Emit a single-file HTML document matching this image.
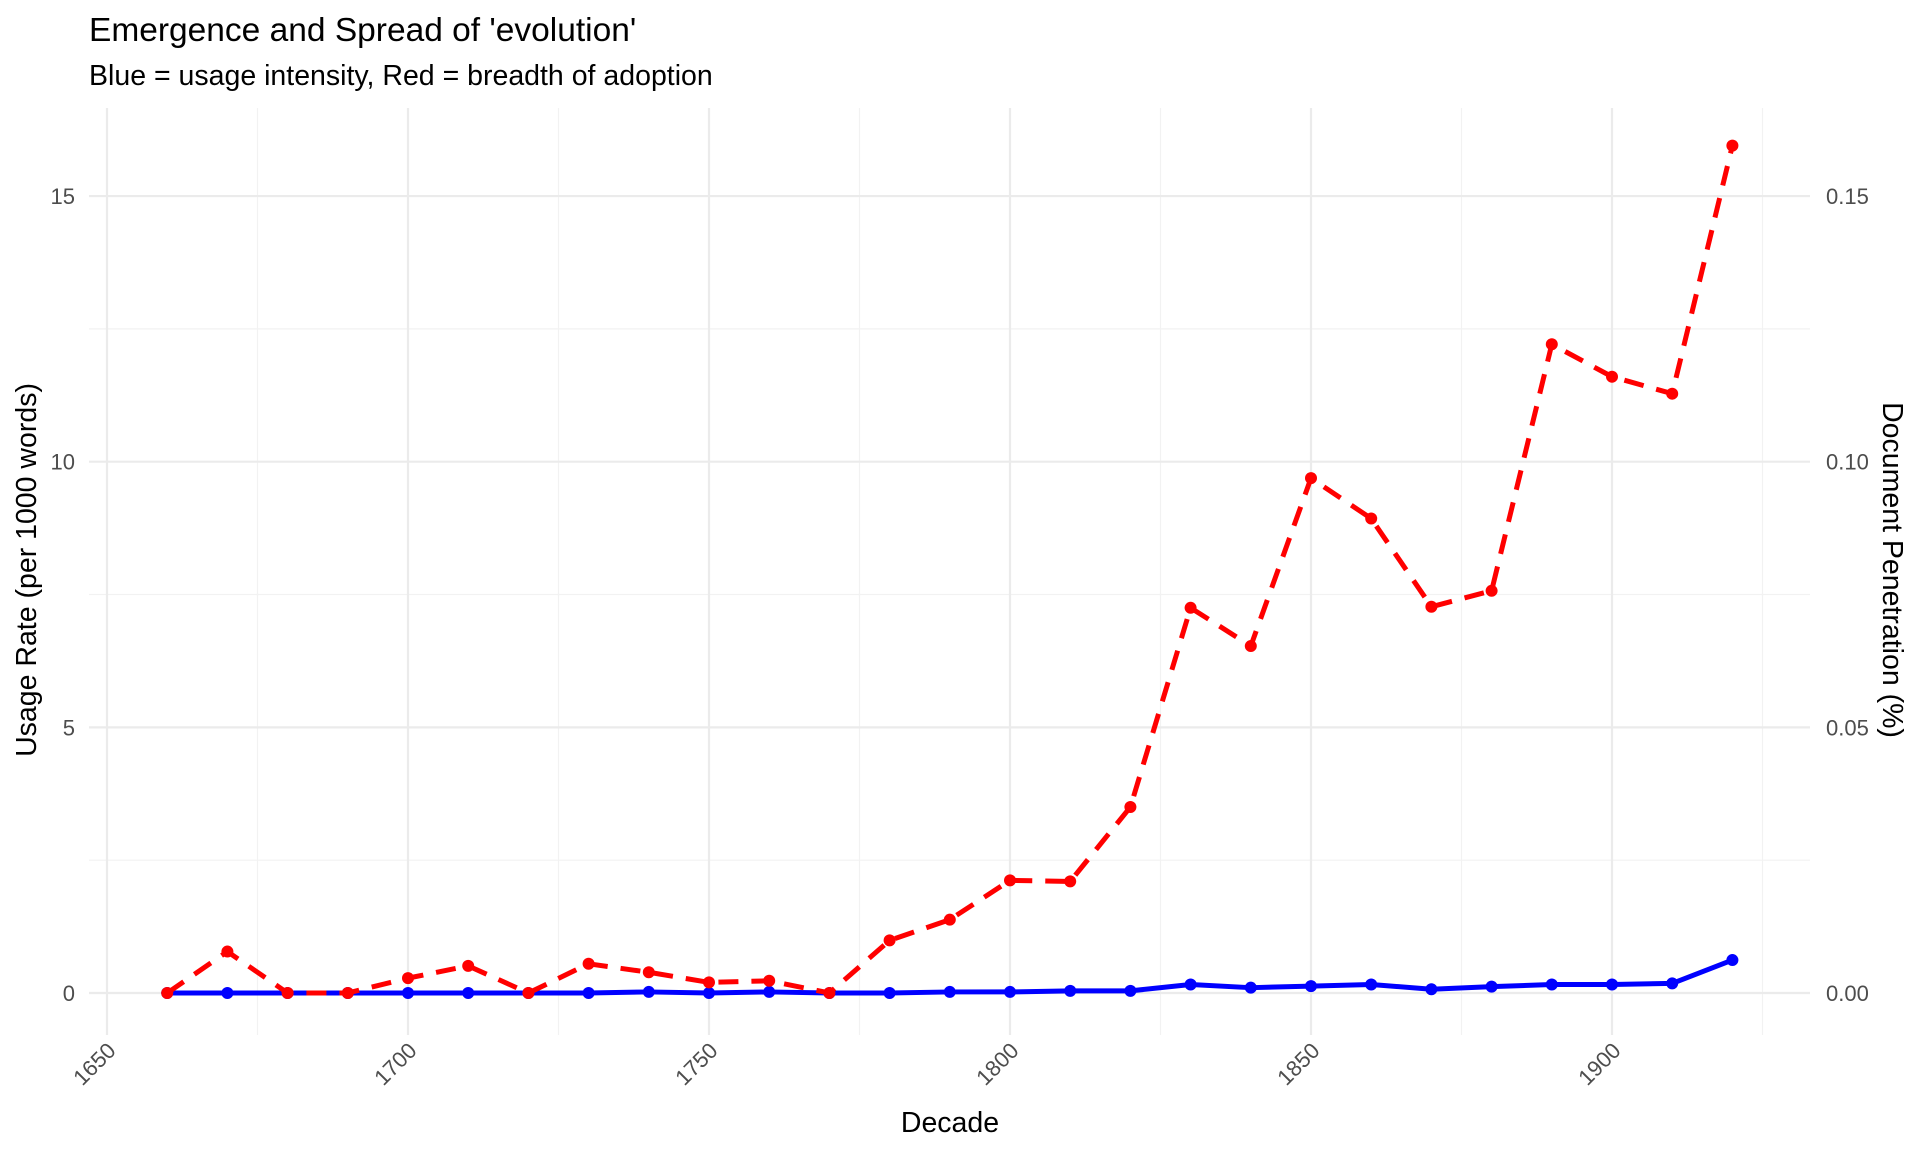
<!DOCTYPE html>
<html><head><meta charset="utf-8"><style>
html,body{margin:0;padding:0;background:#fff;}
svg{display:block;font-family:"Liberation Sans",Arial,sans-serif;}
</style></head><body>
<svg id="chart" width="1920" height="1152" viewBox="0 0 1920 1152" xmlns="http://www.w3.org/2000/svg">
<rect width="1920" height="1152" fill="#fff"/>
<text x="89" y="41" font-size="33.5" fill="#000">Emergence and Spread of 'evolution'</text>
<text x="89" y="85" font-size="28.5" fill="#000">Blue = usage intensity, Red = breadth of adoption</text>
<g id="grid"></g>
<g id="axes"></g>
<g id="series"></g>
<text x="950" y="1132" font-size="28.5" text-anchor="middle" fill="#000">Decade</text>
<text transform="translate(36,570) rotate(-90)" font-size="28.5" text-anchor="middle" fill="#000">Usage Rate (per 1000 words)</text>
<text transform="translate(1883,570) rotate(90)" font-size="28.5" text-anchor="middle" fill="#000">Document Penetration (%)</text>
</svg>
<script>
const decades = [1660,1670,1680,1690,1700,1710,1720,1730,1740,1750,1760,1770,1780,1790,1800,1810,1820,1830,1840,1850,1860,1870,1880,1890,1900,1910,1920];
const usageRate = [0,0,0,0,0,0,0,0,0.02,0,0.02,0,0,0.02,0.02,0.04,0.04,0.16,0.1,0.13,0.16,0.07,0.12,0.16,0.16,0.18,0.62];
const penetration = [0,0.0078,0,0,0.0028,0.0051,0,0.0055,0.0039,0.002,0.0023,0,0.0099,0.0138,0.0212,0.021,0.035,0.0725,0.0653,0.0969,0.0893,0.0727,0.0757,0.1221,0.116,0.1128,0.1595];
const xTicks = [1650,1700,1750,1800,1850,1900];
const xMinor = [1675,1725,1775,1825,1875,1925];
const yTicksLeft = [0,5,10,15];
const yTickLabelsLeft = ["0","5","10","15"];
const yTickLabelsRight = ["0.00","0.05","0.10","0.15"];
const yMinor = [2.5,7.5,12.5];

const NS="http://www.w3.org/2000/svg";
const PL=89, PR=1810, PT=108, PB=1035;
function xs(d){return 107 + (d-1650)*301/50;}
function ysL(v){return 993 - v*53.13;}
function ysR(p){return ysL(p*100);}
function mk(tag,attrs,parent){const e=document.createElementNS(NS,tag);for(const k in attrs)e.setAttribute(k,attrs[k]);parent.appendChild(e);return e;}
const grid=document.getElementById('grid'), axes=document.getElementById('axes'), series=document.getElementById('series');

yMinor.forEach(v=>{const l=mk('line',{x1:PL,x2:PR,y1:ysL(v),y2:ysL(v),stroke:'#f2f2f2','stroke-width':1.2},grid);

});
xMinor.forEach(d=>{const l=mk('line',{x1:xs(d),x2:xs(d),y1:PT,y2:PB,stroke:'#f2f2f2','stroke-width':1.2},grid);

});
yTicksLeft.forEach((v,i)=>{const l=mk('line',{x1:PL,x2:PR,y1:ysL(v),y2:ysL(v),stroke:'#ebebeb','stroke-width':2.2},grid);


const t=mk('text',{x:75,y:ysL(v)+8,'font-size':22,'text-anchor':'end',fill:'#4d4d4d'},axes);t.textContent=yTickLabelsLeft[i];


const r=mk('text',{x:1826,y:ysL(v)+8,'font-size':22,'text-anchor':'start',fill:'#4d4d4d'},axes);r.textContent=yTickLabelsRight[i];

});
xTicks.forEach(d=>{const l=mk('line',{x1:xs(d),x2:xs(d),y1:PT,y2:PB,stroke:'#ebebeb','stroke-width':2.2},grid);


const t=mk('text',{transform:`translate(${xs(d)+10},${1052}) rotate(-45)`,'font-size':22,'text-anchor':'end',fill:'#4d4d4d'},axes);t.textContent=String(d);

});

const redPts=decades.map((d,i)=>xs(d)+','+ysR(penetration[i])).join(' ');
const bluePts=decades.map((d,i)=>xs(d)+','+ysL(usageRate[i])).join(' ');
const bl=mk('polyline',{points:bluePts,fill:'none',stroke:'#0000ff','stroke-width':5,'stroke-linejoin':'round'},series);


decades.forEach((d,i)=>{const c=mk('circle',{cx:xs(d),cy:ysL(usageRate[i]),r:6,fill:'#0000ff'},series);

});
const rl=mk('polyline',{points:redPts,fill:'none',stroke:'#ff0000','stroke-width':5,'stroke-dasharray':'20 13'},series);


decades.forEach((d,i)=>{const c=mk('circle',{cx:xs(d),cy:ysR(penetration[i]),r:6,fill:'#ff0000'},series);

});
</script>
</body></html>
